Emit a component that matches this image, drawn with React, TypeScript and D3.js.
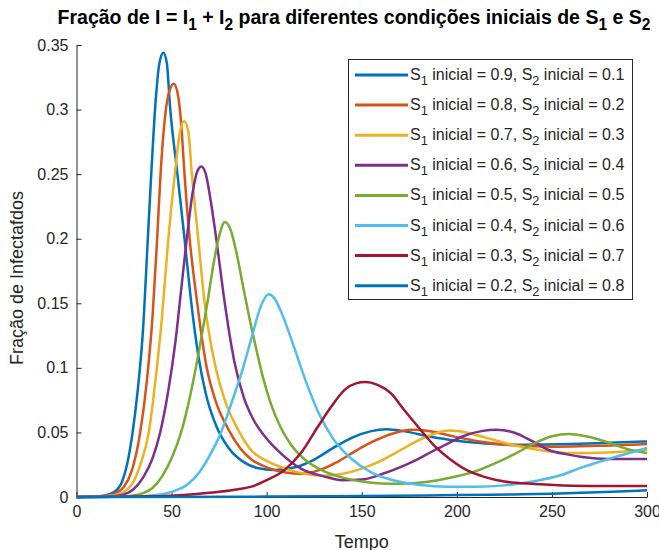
import React, { useEffect, useRef } from "react";
import * as d3 from "d3";

// eixos
const xTicks = [0, 50, 100, 150, 200, 250, 300];
const yTicks = [0, 0.05, 0.1, 0.15, 0.2, 0.25, 0.3, 0.35];

// condições iniciais (legenda)
const s1Inicial = ["0.9", "0.8", "0.7", "0.6", "0.5", "0.4", "0.3", "0.2"];
const s2Inicial = ["0.1", "0.2", "0.3", "0.4", "0.5", "0.6", "0.7", "0.8"];
const cores = ["#0072BD", "#D95319", "#EDB120", "#7E2F8E", "#77AC30", "#4DBEEE", "#A2142F", "#0072BD"];

// curvas: [tempo, fração de infectados]
const curva09: [number, number][] = [
  [0, 0], [10, 0.0004], [15, 0.0012], [20, 0.004], [24, 0.012], [27, 0.028], [29.5, 0.05], [32, 0.08],
  [35, 0.13], [37.5, 0.2], [39.3, 0.25], [41.3, 0.3], [43.5, 0.335], [45.7, 0.344], [47.5, 0.336],
  [49.2, 0.302], [53, 0.251], [56.8, 0.2], [60, 0.155], [64, 0.11], [68, 0.08], [73.5, 0.055], [80, 0.038],
  [88, 0.027], [95, 0.0225], [104, 0.021], [115, 0.023], [125, 0.029], [135, 0.038], [145, 0.046],
  [155, 0.051], [163, 0.0525], [172, 0.051], [185, 0.047], [200, 0.0435], [215, 0.0415], [235, 0.0405],
  [260, 0.041], [280, 0.042], [300, 0.043],
];
const curva08: [number, number][] = [
  [0, 0], [10, 0.0003], [15, 0.0008], [20, 0.0025], [25, 0.008], [29, 0.02], [33.5, 0.05], [37, 0.09],
  [40, 0.14], [42.4, 0.2], [44.2, 0.25], [47, 0.3], [49, 0.315], [51.1, 0.32], [53, 0.314], [55, 0.29],
  [56.8, 0.25], [59.5, 0.2], [63.5, 0.15], [68.5, 0.1], [73, 0.075], [80, 0.052], [86, 0.038], [92, 0.029],
  [100, 0.023], [110, 0.019], [118, 0.018], [128, 0.021], [137, 0.027], [146, 0.035], [156, 0.043],
  [166, 0.049], [176, 0.052], [186, 0.051], [198, 0.047], [212, 0.043], [230, 0.04], [250, 0.039],
  [270, 0.0395], [285, 0.04], [300, 0.041],
];
const curva07: [number, number][] = [
  [0, 0], [15, 0.0005], [20, 0.0015], [25, 0.004], [30, 0.012], [34, 0.027], [38, 0.05], [41.5, 0.09],
  [45, 0.14], [48.3, 0.2], [51.8, 0.251], [54.3, 0.282], [56.6, 0.291], [58.8, 0.283], [60.6, 0.251],
  [64, 0.2], [67.4, 0.15], [72.5, 0.105], [78, 0.075], [85, 0.052], [92, 0.036], [100, 0.028], [110, 0.022],
  [120, 0.018], [130, 0.0165], [140, 0.018], [150, 0.022], [160, 0.028], [170, 0.036], [180, 0.044],
  [188, 0.049], [196, 0.0515], [205, 0.05], [215, 0.046], [230, 0.04], [245, 0.036], [260, 0.034],
  [280, 0.0345], [300, 0.0365],
];
const curva06: [number, number][] = [
  [0, 0], [20, 0.0007], [25, 0.002], [30, 0.006], [35, 0.015], [40, 0.03], [44, 0.05], [48, 0.08],
  [52, 0.12], [55, 0.16], [58, 0.2], [61, 0.235], [63.5, 0.252], [65.7, 0.256], [68, 0.25], [70.5, 0.23],
  [73.5, 0.2], [77.5, 0.155], [83, 0.105], [88, 0.077], [93, 0.06], [99, 0.047], [108, 0.033], [118, 0.022],
  [130, 0.016], [140, 0.013], [150, 0.0135], [161, 0.018], [170, 0.023], [179, 0.029], [188, 0.036],
  [196, 0.042], [205, 0.048], [213, 0.051], [221, 0.052], [230, 0.05], [240, 0.043], [249, 0.036],
  [258, 0.033], [266, 0.031], [280, 0.0295], [300, 0.0294],
];
const curva05: [number, number][] = [
  [0, 0], [25, 0.0005], [30, 0.0012], [35, 0.003], [40, 0.007], [45, 0.016], [50, 0.03], [55, 0.05],
  [60, 0.08], [65, 0.118], [69, 0.152], [72, 0.18], [75, 0.202], [78, 0.213], [81, 0.207], [84, 0.19],
  [88, 0.16], [91, 0.138], [94, 0.118], [98, 0.093], [102, 0.073], [107, 0.055], [113, 0.04], [120, 0.029],
  [130, 0.02], [140, 0.015], [150, 0.012], [160, 0.0105], [170, 0.0102], [180, 0.011], [190, 0.013],
  [200, 0.016], [210, 0.02], [220, 0.026], [230, 0.033], [240, 0.041], [250, 0.047], [259, 0.0488],
  [268, 0.047], [280, 0.042], [290, 0.037], [300, 0.034],
];
const curva04: [number, number][] = [
  [0, 0], [30, 0.0004], [40, 0.0012], [50, 0.004], [58.7, 0.01], [65, 0.02], [70, 0.032], [76, 0.05],
  [82, 0.075], [87.6, 0.1], [92, 0.123], [97, 0.148], [101, 0.157], [104, 0.154], [108, 0.142],
  [113, 0.122], [120, 0.092], [127, 0.066], [135, 0.045], [145, 0.029], [155, 0.019], [165, 0.0135],
  [180, 0.0095], [195, 0.008], [210, 0.008], [225, 0.009], [240, 0.012], [255, 0.017], [265, 0.0225],
  [281, 0.03], [300, 0.038],
];
const curva03: [number, number][] = [
  [0, 0], [40, 0.0005], [60, 0.002], [75, 0.004], [85, 0.006], [92, 0.008], [100, 0.013], [109.5, 0.021],
  [118, 0.034], [127, 0.0546], [134, 0.07], [141, 0.083], [147, 0.088], [152, 0.089], [158, 0.087],
  [165.5, 0.08], [172, 0.068], [179.5, 0.0546], [188, 0.04], [197, 0.0287], [205, 0.021], [214, 0.0158],
  [225, 0.012], [241, 0.0101], [260, 0.0088], [280, 0.0085], [300, 0.0085],
];
const curva02: [number, number][] = [
  [0, 0], [100, 0.0003], [150, 0.0008], [200, 0.0015], [230, 0.002], [250, 0.0025], [270, 0.0035],
  [285, 0.0043], [300, 0.0052],
];
const curvas = [curva09, curva08, curva07, curva06, curva05, curva04, curva03, curva02];

const fonte = "'Liberation Sans', Arial, Helvetica, sans-serif";
const corEixo = "#262626";

// texto com subscritos: partes [texto, subscrito?]
function escreve(sel: any, partes: [string, boolean][], tamanho: number) {
  let desce = 0;
  partes.forEach(([t, sub]) => {
    const alvo = sub ? Math.round(tamanho * 0.33) : 0;
    sel.append("tspan")
      .attr("dy", alvo - desce)
      .attr("font-size", sub ? tamanho * 0.8 : tamanho)
      .text(t);
    desce = alvo;
  });
}

export default function App() {
  const ref = useRef<SVGSVGElement>(null);

  useEffect(() => {
    const svg = d3.select(ref.current);
    svg.selectAll("*").remove();

    const left = 76.5, right = 647, top = 45, bottom = 497;
    const x = d3.scaleLinear().domain([0, 300]).range([left, right]);
    const y = d3.scaleLinear().domain([0, 0.35]).range([bottom, top]);

    const xAxis = d3.axisBottom(x).tickValues(xTicks).tickSizeInner(-5).tickSizeOuter(0).tickPadding(9);
    const yAxis = d3.axisLeft(y).tickValues(yTicks).tickSizeInner(-5).tickSizeOuter(0).tickPadding(8)
      .tickFormat((d: any) => String(+(+d).toFixed(2)));

    const gx = svg.append("g").attr("transform", `translate(0,${bottom})`).call(xAxis);
    const gy = svg.append("g").attr("transform", `translate(${left},0)`).call(yAxis);
    [gx, gy].forEach((g) => {
      g.selectAll("path, line").attr("stroke", corEixo);
      g.selectAll("text").attr("fill", corEixo).attr("font-size", 16).attr("font-family", fonte);
    });

    const linha = d3.line<[number, number]>()
      .x((d) => x(d[0]))
      .y((d) => y(d[1]))
      .curve(d3.curveMonotoneX);

    curvas.forEach((c, i) => {
      svg.append("path")
        .attr("d", linha(c))
        .attr("fill", "none")
        .attr("stroke", cores[i])
        .attr("stroke-width", 2.5)
        .attr("stroke-linejoin", "round");
    });

    // título
    const titulo = svg.append("text")
      .attr("x", 354)
      .attr("y", 24)
      .attr("text-anchor", "middle")
      .attr("font-family", fonte)
      .attr("font-weight", "bold")
      .attr("fill", "#000");
    escreve(titulo, [
      ["Fração de I = I", false], ["1", true], [" + I", false], ["2", true],
      [" para diferentes condições iniciais de S", false], ["1", true], [" e S", false], ["2", true],
    ], 19.5);

    // rótulos dos eixos
    svg.append("text")
      .attr("x", (left + right) / 2)
      .attr("y", 548)
      .attr("text-anchor", "middle")
      .attr("font-family", fonte)
      .attr("font-size", 18)
      .attr("fill", corEixo)
      .text("Tempo");
    svg.append("text")
      .attr("transform", `translate(23,${(top + bottom) / 2 + 7}) rotate(-90)`)
      .attr("text-anchor", "middle")
      .attr("font-family", fonte)
      .attr("font-size", 18)
      .attr("fill", corEixo)
      .text("Fração de Infectafdos");

    // legenda
    const leg = svg.append("g");
    leg.append("rect")
      .attr("x", 348.5).attr("y", 59.5).attr("width", 284).attr("height", 240)
      .attr("fill", "#fff").attr("stroke", corEixo).attr("stroke-width", 1);
    s1Inicial.forEach((s1, i) => {
      const yy = 75 + i * 30.1;
      leg.append("line")
        .attr("x1", 355).attr("x2", 408).attr("y1", yy).attr("y2", yy)
        .attr("stroke", cores[i]).attr("stroke-width", 3);
      const t = leg.append("text")
        .attr("x", 410).attr("y", yy + 5)
        .attr("font-family", fonte)
        .attr("fill", corEixo);
      escreve(t, [
        ["S", false], ["1", true], [` inicial = ${s1}, S`, false], ["2", true], [` inicial = ${s2Inicial[i]}`, false],
      ], 16);
    });
  }, []);

  return (
    <svg ref={ref} width={659} height={550}
      style={{ position: "absolute", left: 0, top: 0, background: "#fff" }} />
  );
}
